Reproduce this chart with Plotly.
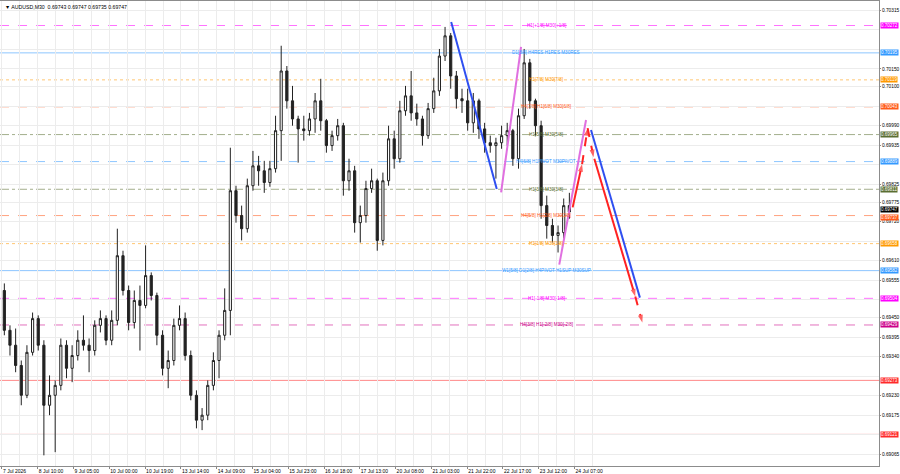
import numpy as np
import plotly.graph_objects as go

# ---------------- data (AUDUSD, candles of 6 x M30 bars) ----------------
opens = [0.69526, 0.69414, 0.69372, 0.69315, 0.69231, 0.69352, 0.69447, 0.69372, 0.69203, 0.69231,
         0.69259, 0.69372, 0.69307, 0.69343, 0.69386, 0.69372, 0.69357, 0.69428, 0.69447, 0.69386,
         0.69442, 0.69624, 0.69526, 0.69436, 0.69498, 0.69484, 0.69568, 0.69512, 0.69400, 0.69307,
         0.69329, 0.69428, 0.69447, 0.69343, 0.69231, 0.69161, 0.69175, 0.69259, 0.69329, 0.69400,
         0.69470, 0.69807, 0.69737, 0.69700, 0.69821, 0.69877, 0.69863, 0.69830, 0.69869, 0.69976,
         0.70144, 0.70060, 0.70009, 0.69981, 0.69976, 0.70009, 0.70060, 0.70004, 0.69934, 0.69962,
         0.69990, 0.69835, 0.69863, 0.69717, 0.69737, 0.69813, 0.69835, 0.69667, 0.69835, 0.69953,
         0.69897, 0.70032, 0.70074, 0.70026, 0.70009, 0.69962, 0.70038, 0.70088, 0.70186, 0.70243,
         0.70130, 0.70066, 0.70060, 0.69998, 0.70060, 0.69981, 0.69942, 0.69934, 0.69942, 0.69962,
         0.69976, 0.69897, 0.70018, 0.70167, 0.70060, 0.69990, 0.69765, 0.69709, 0.69681, 0.69689,
         0.69765]
highs = [0.69546, 0.69428, 0.69419, 0.69329, 0.69372, 0.69464, 0.69456, 0.69386, 0.69287, 0.69273,
         0.69391, 0.69386, 0.69372, 0.69414, 0.69456, 0.69391, 0.69442, 0.69470, 0.69456, 0.69470,
         0.69700, 0.69638, 0.69540, 0.69526, 0.69540, 0.69653, 0.69577, 0.69520, 0.69414, 0.69357,
         0.69447, 0.69484, 0.69464, 0.69357, 0.69245, 0.69195, 0.69273, 0.69352, 0.69414, 0.69532,
         0.69928, 0.69821, 0.69765, 0.69841, 0.69919, 0.69905, 0.69891, 0.69891, 0.70018, 0.70215,
         0.70158, 0.70102, 0.70018, 0.70018, 0.70026, 0.70082, 0.70122, 0.70009, 0.69976, 0.70009,
         0.69998, 0.69897, 0.69877, 0.69765, 0.69835, 0.69869, 0.69841, 0.69858, 0.69990, 0.69976,
         0.70060, 0.70102, 0.70144, 0.70052, 0.70018, 0.70054, 0.70125, 0.70206, 0.70268, 0.70251,
         0.70144, 0.70094, 0.70094, 0.70082, 0.70066, 0.69998, 0.69962, 0.69956, 0.69990, 0.69998,
         0.69981, 0.70038, 0.70206, 0.70178, 0.70066, 0.70004, 0.69793, 0.69728, 0.69709, 0.69785,
         0.69801]
lows = [0.69400, 0.69343, 0.69296, 0.69203, 0.69223, 0.69343, 0.69357, 0.69062, 0.69175, 0.69071,
        0.69245, 0.69279, 0.69268, 0.69329, 0.69357, 0.69296, 0.69343, 0.69408, 0.69372, 0.69372,
        0.69428, 0.69512, 0.69414, 0.69419, 0.69357, 0.69476, 0.69498, 0.69372, 0.69287, 0.69251,
        0.69315, 0.69414, 0.69329, 0.69217, 0.69138, 0.69133, 0.69161, 0.69245, 0.69279, 0.69386,
        0.69400, 0.69717, 0.69667, 0.69689, 0.69807, 0.69821, 0.69801, 0.69818, 0.69858, 0.69891,
        0.70038, 0.69990, 0.69886, 0.69948, 0.69962, 0.69970, 0.69976, 0.69914, 0.69919, 0.69948,
        0.69793, 0.69807, 0.69689, 0.69661, 0.69717, 0.69801, 0.69638, 0.69653, 0.69821, 0.69869,
        0.69886, 0.70018, 0.70004, 0.69990, 0.69934, 0.69953, 0.70026, 0.70074, 0.70172, 0.70094,
        0.70038, 0.70026, 0.69976, 0.69970, 0.69953, 0.69914, 0.69914, 0.69841, 0.69925, 0.69934,
        0.69877, 0.69869, 0.70009, 0.70038, 0.69962, 0.69728, 0.69672, 0.69661, 0.69633, 0.69672,
        0.69728]
closes = [0.69414, 0.69372, 0.69315, 0.69231, 0.69352, 0.69447, 0.69372, 0.69203, 0.69231, 0.69259,
          0.69372, 0.69307, 0.69343, 0.69386, 0.69372, 0.69357, 0.69428, 0.69447, 0.69386, 0.69442,
          0.69624, 0.69526, 0.69436, 0.69498, 0.69484, 0.69568, 0.69512, 0.69400, 0.69307, 0.69329,
          0.69428, 0.69447, 0.69343, 0.69231, 0.69161, 0.69175, 0.69259, 0.69329, 0.69400, 0.69470,
          0.69807, 0.69737, 0.69700, 0.69821, 0.69877, 0.69863, 0.69830, 0.69869, 0.69976, 0.70144,
          0.70060, 0.70009, 0.69981, 0.69976, 0.70009, 0.70060, 0.70004, 0.69934, 0.69962, 0.69990,
          0.69835, 0.69863, 0.69717, 0.69737, 0.69813, 0.69835, 0.69667, 0.69835, 0.69953, 0.69897,
          0.70032, 0.70074, 0.70026, 0.70009, 0.69962, 0.70038, 0.70088, 0.70186, 0.70243, 0.70130,
          0.70066, 0.70060, 0.69998, 0.70060, 0.69981, 0.69942, 0.69934, 0.69942, 0.69962, 0.69976,
          0.69897, 0.70018, 0.70167, 0.70060, 0.69990, 0.69765, 0.69709, 0.69681, 0.69689, 0.69765,
          0.69747]

BARS_PER_CANDLE = 6          # each candle = 6 M30 bars (3 hours)
BARS_PER_LABEL = 38          # time label every 19 hours
candle_bar = np.arange(len(closes)) * BARS_PER_CANDLE + (BARS_PER_CANDLE - 1) / 2

x_tick_labels = ["7 Jul 2026", "8 Jul 10:00", "9 Jul 05:00", "10 Jul 00:00", "10 Jul 19:00",
                 "13 Jul 14:00", "14 Jul 09:00", "15 Jul 04:00", "15 Jul 23:00", "16 Jul 18:00",
                 "17 Jul 13:00", "20 Jul 08:00", "21 Jul 03:00", "21 Jul 22:00", "22 Jul 17:00",
                 "23 Jul 12:00", "24 Jul 07:00"]
x_tick_bars = np.arange(len(x_tick_labels)) * BARS_PER_LABEL

# price-scale labels left visible (those hidden behind level boxes omitted)
y_tick_vals = [0.70315, 0.70150, 0.70100, 0.69990, 0.69935, 0.69825, 0.69775, 0.69720,
               0.69610, 0.69555, 0.69450, 0.69395, 0.69340, 0.69230, 0.69175, 0.69065]
y_grid_vals = [0.70315, 0.70260, 0.70205, 0.70150, 0.70100, 0.70045, 0.69990, 0.69935,
               0.69880, 0.69825, 0.69775, 0.69720, 0.69665, 0.69610, 0.69555, 0.69500,
               0.69450, 0.69395, 0.69340, 0.69285, 0.69230, 0.69175, 0.69120, 0.69065]

# Murrey-style levels
level_prices = [0.70272, 0.70195, 0.70119, 0.70043, 0.69965, 0.69889, 0.69811,
                0.69737, 0.69658, 0.69582, 0.69504, 0.69429, 0.69273, 0.69121]
level_texts = ["H1[+1/8] M30[+1/8]", "D1[8/8] H4RES H1RES M30RES", "H1[7/8] M30[7/8]",
               "H4[7/8] H1[6/8] M30[6/8]", "H1[5/8] M30[5/8]", "H4[6/8] H1PIVOT M30PIVOT",
               "H1[3/8] M30[3/8]", "H4[5/8] H1[2/8] M30[2/8]", "H1[1/8] M30[1/8]",
               "W1[5/8] D1[2/8] H4PIVOT H1SUP M30SUP", "H1[-1/8] M30[-1/8]",
               "H4[3/8] H1[-2/8] M30[-2/8]", "", ""]
level_colors = ["#ff00ff", "#3399ff", "#ff9900", "#ff5a1a", "#5a6e32", "#3399ff", "#5a6e32",
                "#ff5a1a", "#ff9900", "#3399ff", "#ff00ff", "#cc0088", "#ff2a2a", "#ff2a2a"]
level_dashes = ["dash", "solid", "dot", "dash", "dashdot", "dash", "dashdot",
                "dash", "dot", "solid", "dash", "dash", "solid", "solid"]
level_box_shift = [0, 0, 0, 0, 0, 0, 0, -2, 0, 0, 0, 0, 0, 0]

# projected pattern lines (bar index, price)
pat_x0 = [477.0, 530.0, 591.8, 606.0, 616.0, 621.9, 629.0, 672.5, 625.5]
pat_y0 = [0.70282, 0.69802, 0.69599, 0.69760, 0.69882, 0.69983, 0.69897, 0.69509, 0.69978]
pat_x1 = [525.4, 551.2, 620.2, 616.0, 621.9, 628.2, 672.5, 680.0, 677.4]
pat_y1 = [0.69812, 0.70212, 0.70006, 0.69882, 0.69983, 0.69901, 0.69509, 0.69436, 0.69506]
pat_colors = ["#2f4ff0", "#e070e0", "#e070e0", "#ff2222", "#ff2222", "#ff2222", "#ff2222", "#ff2222", "#2f4ff0"]
pat_dashes = ["solid", "solid", "solid", "solid", "dash", "dash", "solid", "dash", "solid"]
pat_arrow = [False, False, False, True, True, True, True, True, False]

current_price = 0.69747
header_text = "AUDUSD,M30  0.69743 0.69747 0.69735 0.69747"

FONT = "Liberation Sans, Arial, sans-serif"

# ---------------- figure ----------------
fig = go.Figure()

for p, c, d in zip(level_prices, level_colors, level_dashes):
    fig.add_shape(type="line", xref="paper", x0=0, x1=1, yref="y", y0=p, y1=p,
                  line=dict(color=c, width=1, dash=d), opacity=0.55, layer="below")

fig.add_trace(go.Candlestick(
    x=candle_bar, open=opens, high=highs, low=lows, close=closes,
    increasing=dict(line=dict(color="#222222", width=1), fillcolor="#ffffff"),
    decreasing=dict(line=dict(color="#222222", width=1), fillcolor="#222222"),
    whiskerwidth=0, hoverinfo="skip", showlegend=False))

for x0, y0, x1, y1, c, d, a in zip(pat_x0, pat_y0, pat_x1, pat_y1, pat_colors, pat_dashes, pat_arrow):
    fig.add_trace(go.Scatter(
        x=[x0, x1], y=[y0, y1], mode="lines+markers" if a else "lines",
        line=dict(color=c, width=2, dash=d),
        marker=dict(symbol=["circle", "arrow"], size=[0, 8], angleref="previous", color=c,
                    line=dict(width=0)),
        hoverinfo="skip", showlegend=False))

annotations = []
for p, t, c, s in zip(level_prices, level_texts, level_colors, level_box_shift):
    if t:
        annotations.append(dict(x=578, y=p, xref="x", yref="y", text=t, showarrow=False,
                                font=dict(family=FONT, size=4.6, color=c)))
    annotations.append(dict(x=1, y=p, xref="paper", yref="y", xanchor="left", yanchor="middle",
                            text=f"{p:.5f}", showarrow=False, bgcolor=c, borderpad=0, xshift=1,
                            yshift=s, font=dict(family=FONT, size=4.5, color="#ffffff")))
annotations.append(dict(x=1, y=current_price, xref="paper", yref="y", xanchor="left",
                        yanchor="middle", text=f"{current_price:.5f}", showarrow=False,
                        bgcolor="#000000", borderpad=0, xshift=1, yshift=3,
                        font=dict(family=FONT, size=4.5, color="#ffffff")))
annotations.append(dict(x=0, y=1, xref="paper", yref="paper", xanchor="left", yanchor="top",
                        text="▼ " + header_text, showarrow=False, xshift=3, yshift=-1,
                        font=dict(family=FONT, size=5.2, color="#000000")))

fig.update_layout(
    width=900, height=474,
    margin=dict(l=0, r=21, t=1, b=8, autoexpand=False),
    paper_bgcolor="#ffffff", plot_bgcolor="#ffffff",
    showlegend=False, hovermode=False, boxgap=0.45,
    annotations=annotations,
    xaxis=dict(range=[-2.1, 931.3], tickmode="array", tickvals=x_tick_bars, ticktext=x_tick_labels,
               tickangle=0, automargin=False,
               ticklabelposition="outside right", tickfont=dict(family=FONT, size=5, color="#000"),
               ticks="outside", ticklen=2, tickcolor="#888",
               showgrid=True, gridcolor="#ececec", gridwidth=1,
               minor=dict(tickvals=x_tick_bars + BARS_PER_LABEL / 2, showgrid=True,
                          gridcolor="#ececec", ticks=""),
               showline=True, linecolor="#8c8c8c", linewidth=1, mirror=True,
               zeroline=False, rangeslider=dict(visible=False), fixedrange=True),
    yaxis=dict(side="right", range=[0.69032, 0.70341], tickmode="array", tickvals=y_tick_vals,
               ticktext=[f"{v:.5f}" for v in y_tick_vals], automargin=False,
               tickfont=dict(family=FONT, size=4.8, color="#000"),
               ticks="outside", ticklen=1, tickcolor="#888",
               showgrid=False,
               minor=dict(tickvals=y_grid_vals, showgrid=True, gridcolor="#ececec", ticks=""),
               showline=True, linecolor="#8c8c8c", linewidth=1, mirror=True,
               zeroline=False, fixedrange=True),
)

fig.write_html("out.html")
